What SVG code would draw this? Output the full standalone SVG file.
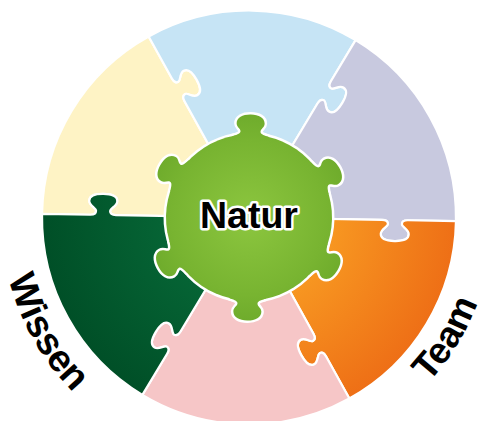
<svg xmlns="http://www.w3.org/2000/svg" width="488" height="421" viewBox="0 0 488 421">
<defs>
<style>
.pc{stroke:#ffffff;stroke-width:2.2;stroke-linejoin:round}
.lbl{font-family:"Liberation Sans",Arial,sans-serif;font-weight:bold;fill:#000000}
.gstroke{fill:#ffffff;stroke:#ffffff;stroke-width:5;stroke-linejoin:round}
.gfill{fill:url(#gGreen)}
</style>
<radialGradient id="gGreen" gradientUnits="userSpaceOnUse" cx="0" cy="0" r="103">
<stop offset="0" stop-color="#8cc63f"/>
<stop offset="0.75" stop-color="#78b431"/>
<stop offset="1" stop-color="#6fac2c"/>
</radialGradient>
<radialGradient id="gOrange" gradientUnits="userSpaceOnUse" cx="0" cy="0" r="207">
<stop offset="0.35" stop-color="#f89a22"/>
<stop offset="1" stop-color="#ee6f16"/>
</radialGradient>
<radialGradient id="gDark" gradientUnits="userSpaceOnUse" cx="0" cy="0" r="207">
<stop offset="0.35" stop-color="#066636"/>
<stop offset="1" stop-color="#004f27"/>
</radialGradient>
<path id="piece" d="M0,0 L-133,0 C-138,0 -139,-2 -139,-4 C-139,-7 -132,-9 -132,-14 C-132,-19 -137,-21 -146,-21 C-155,-21 -160,-19 -160,-14 C-160,-9 -153,-7 -153,-4 C-153,-2 -154,0 -159,0 L-207,0 A207,207 0 0 1 -103.5,-179.27 L-79.5,-137.69 C-77,-133.36 -74.77,-133.5 -73.04,-134.5 C-70.44,-136 -72.21,-143.06 -67.88,-145.56 C-63.55,-148.06 -59.31,-144.73 -54.81,-136.94 C-50.31,-129.14 -49.55,-123.81 -53.88,-121.31 C-58.21,-118.81 -63.44,-123.88 -66.04,-122.38 C-67.77,-121.38 -69,-119.51 -66.5,-115.18 Z"/>
<path id="knob" d="M-18,-70 L-18,-81 C-12,-82.8 -10,-84 -10,-86 C-10,-89 -14,-90 -14,-94 C-14,-100 -8,-103 0,-103 C8,-103 14,-100 14,-94 C14,-90 10,-89 10,-86 C10,-84 12,-82.8 18,-81 L18,-70 Z"/>
<path id="arcW" d="M16,132.7 A248,248 0 0 0 201.7,460.9"/>
<path id="arcT" d="M293.5,457.4 A244,244 0 0 0 477.6,132"/>
</defs>

<g id="ring" transform="translate(249,217.5) rotate(1)">
<g id="piece-yellow"><use href="#piece" class="pc" fill="#fef3c5"/></g>
<g id="piece-blue"><use href="#piece" class="pc" fill="#c6e4f5" transform="rotate(60)"/></g>
<g id="piece-purple"><use href="#piece" class="pc" fill="#c8c9df" transform="rotate(120)"/></g>
<g id="piece-orange"><use href="#piece" class="pc" fill="url(#gOrange)" transform="rotate(180)"/></g>
<g id="piece-pink"><use href="#piece" class="pc" fill="#f6c6c7" transform="rotate(240)"/></g>
<g id="piece-darkgreen"><use href="#piece" class="pc" fill="url(#gDark)" transform="rotate(300)"/></g>

<g id="center-natur">
<g class="gstroke">
<circle r="83"/>
<use href="#knob"/>
<use href="#knob" transform="rotate(60)"/>
<use href="#knob" transform="rotate(120)"/>
<use href="#knob" transform="rotate(180)"/>
<use href="#knob" transform="rotate(240)"/>
<use href="#knob" transform="rotate(300)"/>
</g>
<g class="gfill">
<circle r="83"/>
<use href="#knob"/>
<use href="#knob" transform="rotate(60)"/>
<use href="#knob" transform="rotate(120)"/>
<use href="#knob" transform="rotate(180)"/>
<use href="#knob" transform="rotate(240)"/>
<use href="#knob" transform="rotate(300)"/>
</g>
</g>
</g>

<text class="lbl" x="249" y="228" font-size="37.5" text-anchor="middle" stroke="#ffffff" stroke-width="5" stroke-linejoin="round" paint-order="stroke">Natur</text>

<g id="labels">
<text class="lbl" font-size="38"><textPath href="#arcW" startOffset="50%" text-anchor="middle">Wissen</textPath></text>
<text class="lbl" font-size="37" transform="rotate(2 249 217.5)"><textPath href="#arcT" startOffset="50%" text-anchor="middle">Team</textPath></text>
</g>
</svg>
